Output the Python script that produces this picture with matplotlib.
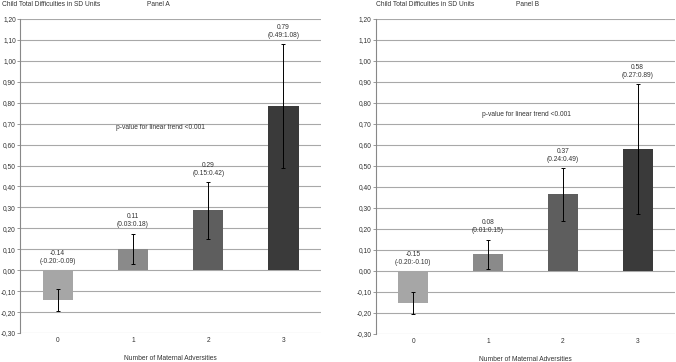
import numpy as np
import matplotlib.pyplot as plt
from matplotlib.ticker import FuncFormatter

plt.rcParams['font.family'] = ['Liberation Sans', 'DejaVu Sans']

categories = ["0", "1", "2", "3"]
colors = ["#a6a6a6", "#8a8a8a", "#5e5e5e", "#3a3a3a"]

# Panel A
a_est = [-0.14, 0.10, 0.29, 0.785]
a_lo = [-0.195, 0.03, 0.15, 0.49]
a_hi = [-0.09, 0.175, 0.42, 1.08]
a_labels = ["-0.14\n(-0.20:-0.09)", "0.11\n(0.03:0.18)", "0.29\n(0.15:0.42)", "0.79\n(0.49:1.08)"]

# Panel B
b_est = [-0.15, 0.08, 0.365, 0.58]
b_lo = [-0.205, 0.01, 0.24, 0.27]
b_hi = [-0.10, 0.15, 0.49, 0.89]
b_labels = ["-0.15\n(-0.20:-0.10)", "0.08\n(0.01:0.15)", "0.37\n(0.24:0.49)", "0.58\n(0.27:0.89)"]

FS = 4.8

fig = plt.figure(figsize=(6.76, 3.62), dpi=100)
axA = fig.add_axes([0.0296, 0.080, 0.4454, 0.8675])
axB = fig.add_axes([0.556, 0.0773, 0.4425, 0.8702])


def draw(ax, est, lo, hi, labels, ptext_xy):
    x = np.arange(len(categories))
    est = np.array(est)
    yerr = [est - np.array(lo), np.array(hi) - est]
    ax.set_axisbelow(True)
    ax.grid(axis="y", color="#a8a8a8", lw=0.8)
    ax.bar(x, est, width=0.4, color=colors, zorder=2)
    ax.errorbar(x, est, yerr=yerr, fmt="none", ecolor="black", elinewidth=0.7,
                capsize=1.5, capthick=0.7, zorder=3)
    for xi, h, t in zip(x, hi, labels):
        top = max(h, 0)
        ax.text(xi, top + 0.025, t, ha="center", va="bottom", fontsize=FS,
                color="#333333", linespacing=1.2)
    ax.text(ptext_xy[0], ptext_xy[1], "p-value for linear trend <0.001",
            ha="center", va="center", fontsize=FS, color="#333333")
    ax.set_xlim(-0.5, 3.5)
    ax.set_ylim(-0.30, 1.20)
    ax.set_yticks(np.arange(-0.30, 1.201, 0.10))
    ax.yaxis.set_major_formatter(FuncFormatter(lambda v, p: f"{v:.2f}".replace(".", ",").replace("-0,00", "0,00")))
    ax.set_xticks(x)
    ax.set_xticklabels(categories)
    ax.tick_params(axis="y", labelsize=FS, length=2, width=0.6, color="#888888",
                   labelcolor="#333333", pad=1)
    ax.tick_params(axis="x", labelsize=FS, length=0, labelcolor="#333333", pad=3)
    for s in ["top", "right", "bottom"]:
        ax.spines[s].set_visible(False)
    ax.spines["left"].set_color("#888888")
    ax.spines["left"].set_linewidth(0.8)
    ax.set_xlabel("Number of Maternal Adversities", fontsize=FS, color="#333333",
                  labelpad=8)


draw(axA, a_est, a_lo, a_hi, a_labels, (1.36, 0.68))
draw(axB, b_est, b_lo, b_hi, b_labels, (1.52, 0.745))

fig.text(2 / 676, 1 - 5 / 362, "Child Total Difficulties in SD Units", fontsize=FS,
         color="#333333", va="center", ha="left")
fig.text(147 / 676, 1 - 5 / 362, "Panel A", fontsize=FS, color="#333333",
         va="center", ha="left")
fig.text(376 / 676, 1 - 5 / 362, "Child Total Difficulties in SD Units", fontsize=FS,
         color="#333333", va="center", ha="left")
fig.text(516 / 676, 1 - 5 / 362, "Panel B", fontsize=FS, color="#333333",
         va="center", ha="left")

fig.savefig("out.png", dpi=100)
